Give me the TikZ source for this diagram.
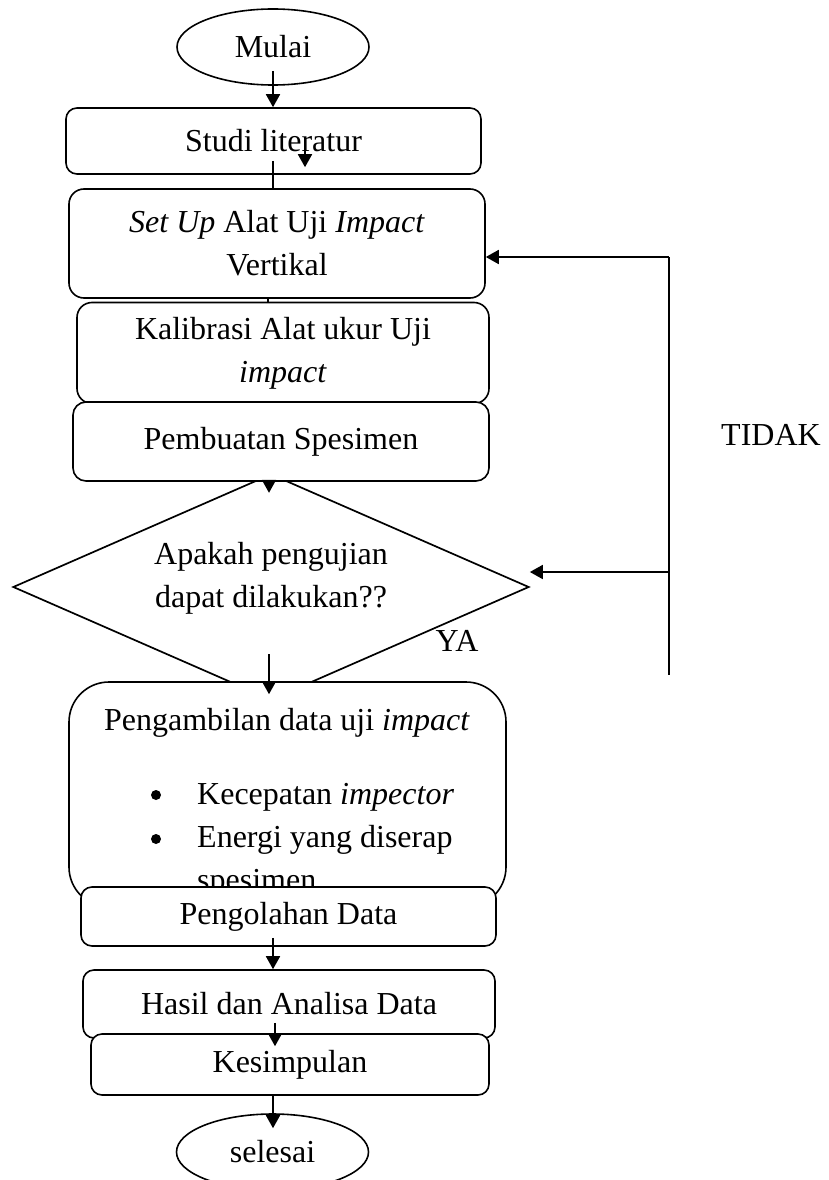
\documentclass[tikz,border=0pt]{standalone}
\usepackage{fontspec}
\setmainfont{Liberation Serif}
\usetikzlibrary{shapes.geometric,arrows.meta,calc}
\begin{document}
\begin{tikzpicture}[x=1pt,y=-1pt,
  every node/.style={font=\fontsize{32}{43}\selectfont},
  box/.style={draw, line width=1.6pt, fill=white, rounded corners=#1, inner sep=0pt, align=center},
  box/.default=11pt,
  term/.style={draw, ellipse, line width=1.6pt, fill=white, minimum width=192pt, minimum height=76pt, inner sep=0pt},
  decision/.style={draw, diamond, line width=1.7pt, fill=white, minimum width=516pt, minimum height=226pt, inner sep=0pt},
  arr/.style={line width=1.8pt, -{Triangle[length=13pt,width=14pt]}},
  ln/.style={line width=1.8pt},
  lbl/.style={inner sep=0pt, align=center},
  bullet/.style={circle, fill=black, inner sep=0pt, minimum size=10pt}
]
\useasboundingbox (0,0) rectangle (828,1180);

\node[term] (mulai) at (273,47) {Mulai};
\node[box, minimum width=415pt, minimum height=66pt] (studi) at (273.5,141) {Studi literatur};
\node[box=15pt, minimum width=416pt, minimum height=109pt] (setup) at (277,243.5) {\textit{Set Up} Alat Uji \textit{Impact}\\Vertikal};
\node[box=15pt, minimum width=412pt, minimum height=101pt] (kal) at (283,353) {Kalibrasi Alat ukur Uji\\\textit{impact}};
\node[decision] (cek) at (271,587) {};
\node[lbl] (cektxt) at (271,578) {Apakah pengujian\\dapat dilakukan??};
\node[box=13pt, minimum width=416pt, minimum height=79pt] (pemb) at (281,441.5) {Pembuatan Spesimen};

\node[box=40pt, minimum width=437pt, minimum height=225pt] (ambil) at (287.5,794.5) {};
\node[lbl] (ambiltitle) at (287,723) {Pengambilan data uji \textit{impact}};
\node[bullet] (b1) at (156,795) {};
\node[bullet] (b2) at (156,839) {};
\node[lbl, anchor=base west] (t1) at (197,804) {Kecepatan \textit{impector}};
\node[lbl, anchor=base west] (t2) at (197,847) {Energi yang diserap};
\node[lbl, anchor=base west] (t3) at (197,890) {spesimen};

\node[box, minimum width=415pt, minimum height=59pt] (olah) at (288.5,916.5) {Pengolahan Data};
\node[box, minimum width=412pt, minimum height=68pt] (hasil) at (289,1004) {Hasil dan Analisa Data};
\node[box, minimum width=398pt, minimum height=61pt] (simp) at (290,1064.5) {Kesimpulan};
\node[term] (selesai) at (272.5,1152) {selesai};

\node[lbl] (ya) at (457,641) {YA};
\node[lbl] (tidak) at (771,435) {TIDAK};

% helper coordinates
\coordinate (c268) at (268,0);
\coordinate (c269) at (269,0);
\coordinate (c273) at (273,0);
\coordinate (c275) at (275,0);
\coordinate (c305) at (305,0);
\coordinate (fbtop) at (669,257);
\coordinate (fbmid) at (669,572);
\coordinate (fbbot) at (669,675);

% connectors
\draw[arr] ($(mulai.south -| c273)+(0,-15)$) -- (studi.north -| c273);
\draw[ln] ($(studi.south -| c273)+(0,-14)$) -- (setup.north -| c273);
\draw[arr] ($(studi.north -| c305)+(0,30)$) -- ($(studi.north -| c305)+(0,60)$);
\draw[ln] (setup.south -| c268) -- (kal.north -| c268);
\draw[arr] (pemb.south -| c269) -- ($(pemb.south -| c269)+(0,11)$);
\draw[arr] ($(ambil.north -| c269)+(0,-27)$) -- ($(ambil.north -| c269)+(0,13)$);
\draw[arr] ($(olah.south -| c273)+(0,-9)$) -- (hasil.north -| c273);
\draw[arr] ($(hasil.south -| c275)+(0,-16)$) -- ($(simp.north -| c275)+(0,13)$);
\draw[arr] (simp.south -| c273) -- ($(selesai.north -| c273)+(0,15)$);

\draw[ln] (fbtop) -- (fbbot);
\draw[arr] (fbtop) -- (setup.east |- fbtop);
\draw[arr] (fbmid) -- (cek.east |- fbmid);
\end{tikzpicture}
\end{document}
